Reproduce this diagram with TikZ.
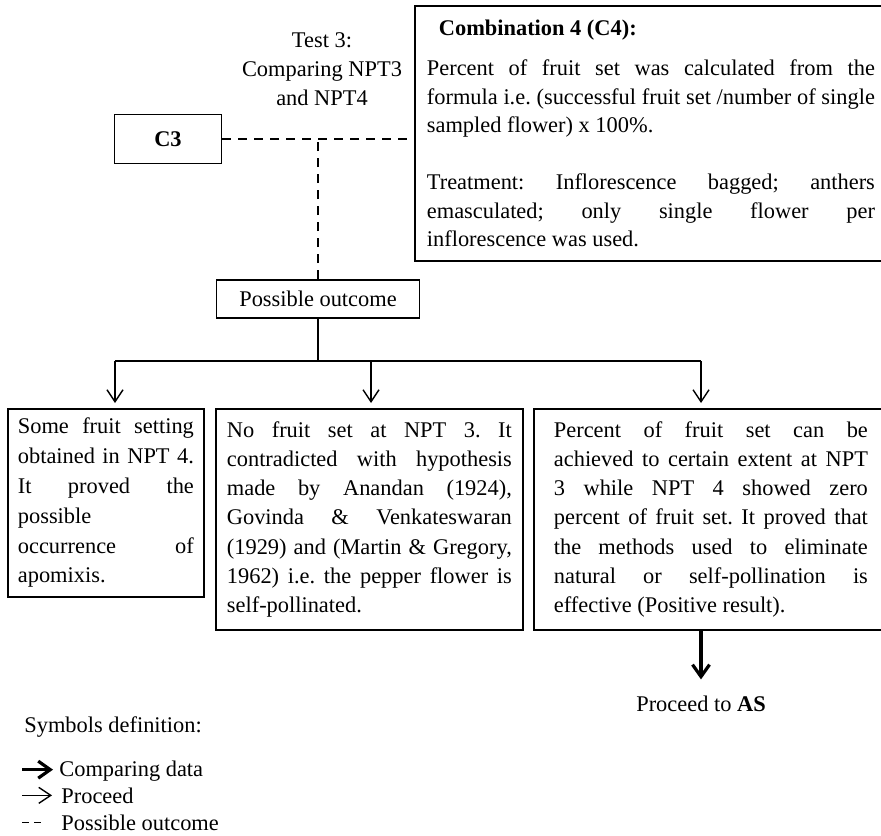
\documentclass[tikz,border=0pt]{standalone}
\usepackage{fontspec}
\setmainfont{Liberation Serif}
\usetikzlibrary{arrows.meta,positioning}

% one justified line of a box
\newlength{\lw}
\newcommand{\fl}[1]{\leavevmode\hbox to\lw{#1}}

\tikzset{
    every node/.style={font=\fontsize{11.2}{14.6}\selectfont},
    box/.style={draw, line width=0.9pt, inner sep=0pt},
    textbox/.style={box, align=justify, anchor=north west, inner ysep=0pt,
        text width=#1, execute at begin node={\setlength{\lw}{#1}\frenchspacing\spaceskip=0pt\xspaceskip=0pt}},
    line/.style={line width=0.7pt},
    proceed/.style={line width=0.7pt, -{Straight Barb[length=6pt,width=8pt]}},
    compare/.style={line width=1.6pt, -{Straight Barb[length=6pt,width=8.5pt]}},
    outcome/.style={line width=0.7pt, dash pattern=on 4.5pt off 3.5pt},
}

\begin{document}
\begin{tikzpicture}[x=0.5pt,y=-0.5pt]
    \useasboundingbox (0,0) rectangle (881,835);

    %Test and combinations
    \node[align=center, font=\fontsize{11.2}{14.5}\selectfont] (test) at (322,69) {Test 3:\\Comparing NPT3\\and NPT4};
    \node[box, minimum width=53.5pt, minimum height=24.5pt] (c3) at (168,139) {\textbf{C3}};
    \node[textbox=224pt, inner xsep=6pt, minimum height=127.5pt,
        font=\fontsize{11.2}{14.25}\selectfont] (c4) at (414,5) {%
        \hspace*{6pt}\textbf{Combination 4 (C4):}\\[6pt]
        \fl{Percent of fruit set was calculated from the}\\
        \fl{formula i.e. (successful fruit set /number of single}\\
        sampled flower) x 100\%.\\[14.25pt]
        \fl{Treatment: Inflorescence bagged; anthers}\\
        \fl{emasculated; only single flower per}\\
        inflorescence was used.};
    \node[box, minimum width=101.5pt, minimum height=19pt] (outcome) at (318,299) {Possible outcome};

    \draw[outcome] (c3.east) -- (c3.east -| c4.west);
    \draw[outcome] (outcome.north) -- (outcome.north |- c3.east);

    %Outcomes
    \node[textbox=88pt, inner xsep=5pt, minimum height=94pt,
        font=\fontsize{11.2}{14.9}\selectfont] (one) at (7,408) {%
        \fl{Some fruit setting}\\
        \fl{obtained in NPT 4.}\\
        \fl{It proved the}\\
        possible\\
        \fl{occurrence of}\\
        apomixis.};
    \node[textbox=142.5pt, inner xsep=5.5pt, minimum height=110.5pt] (two) at (215,408) {%
        \fl{No fruit set at NPT 3. It}\\
        \fl{contradicted with hypothesis}\\
        \fl{made by Anandan (1924),}\\
        \fl{Govinda \& Venkateswaran}\\
        \fl{(1929) and (Martin \& Gregory,}\\
        \fl{1962) i.e. the pepper flower is}\\
        self-pollinated.};
    \node[textbox=157pt, inner xsep=10pt, minimum height=110.5pt] (three) at (533,408) {%
        \fl{Percent of fruit set can be}\\
        \fl{achieved to certain extent at NPT}\\
        \fl{3 while NPT 4 showed zero}\\
        \fl{percent of fruit set. It proved that}\\
        \fl{the methods used to eliminate}\\
        \fl{natural or self-pollination is}\\
        effective (Positive result).};

    \coordinate (split) at ([yshift=-21.5pt]outcome.south);
    \coordinate (left) at (115,361);
    \coordinate (mid) at (371,361);
    \coordinate (right) at (701,361);
    \draw[line] (outcome.south) -- (split);
    \draw[line] (left) -- (right);
    \foreach \c/\b in {left/one, mid/two, right/three}
    \draw[proceed, shorten >=2.5pt] (\c) -- (\c |- \b.north);

    \node[anchor=base] (as) at (701,711) {Proceed to \textbf{AS}};
    \draw[compare, shorten >=4.5pt] (three.south -| right) -- (as.north);

    %Symbols
    \node[anchor=base west, inner sep=0pt] (symdef) at (24,732) {Symbols definition:};
    \node[anchor=base west, inner sep=0pt] (cmpdata) at (59,776) {Comparing data};
    \node[anchor=base west, inner sep=0pt] (proc) at (61,803) {Proceed};
    \node[anchor=base west, inner sep=0pt] (poss) at (61,830) {Possible outcome};
    \draw[compare] ([xshift=-18.5pt,yshift=0.5pt]cmpdata.west) -- ([xshift=-3pt,yshift=0.5pt]cmpdata.west);
    \draw[proceed] ([xshift=-19.5pt]proc.west) -- ([xshift=-4.5pt]proc.west);
    \draw[line, dash pattern=on 3.5pt off 2.5pt] ([xshift=-19.5pt]poss.west) -- ([xshift=-7.5pt]poss.west);

\end{tikzpicture}
\end{document}
